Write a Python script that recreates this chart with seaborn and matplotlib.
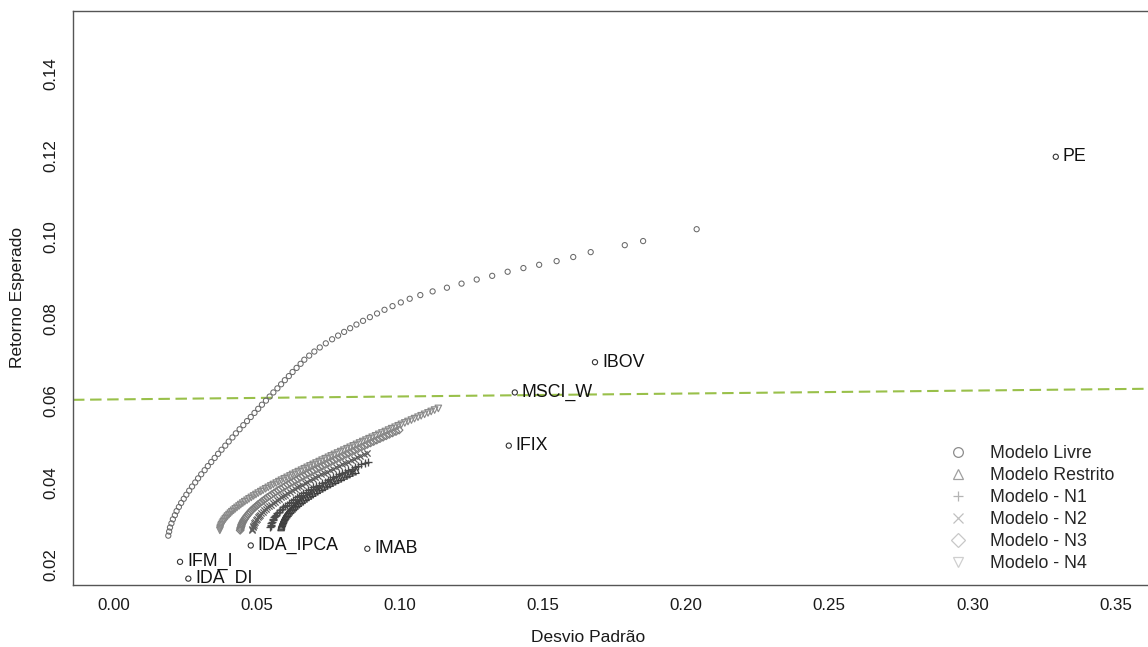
import matplotlib
matplotlib.use("Agg")
import matplotlib.pyplot as plt
from matplotlib.markers import MarkerStyle
from matplotlib.lines import Line2D
import seaborn as sns

# ---------------- data ----------------
asset_names = ["PE", "IBOV", "MSCI_W", "IFIX", "IMAB", "IDA_IPCA", "IFM_I", "IDA_DI"]
asset_sd = [0.3291, 0.1682, 0.1402, 0.1381, 0.0887, 0.0480, 0.0233, 0.0262]
asset_ret = [0.1196, 0.0694, 0.0620, 0.0490, 0.0238, 0.0246, 0.0206, 0.0165]

livre_ret = [0.027, 0.028, 0.029, 0.030, 0.031, 0.032, 0.033, 0.034, 0.035, 0.036,
             0.037, 0.038, 0.039, 0.040, 0.041, 0.042, 0.043, 0.044, 0.045, 0.046,
             0.047, 0.048, 0.049, 0.050, 0.051, 0.052, 0.053, 0.054, 0.055, 0.056,
             0.057, 0.058, 0.059, 0.060, 0.061, 0.062, 0.063, 0.064, 0.065, 0.066,
             0.067, 0.068, 0.069, 0.070, 0.071, 0.072, 0.073, 0.074, 0.075,
             0.0759, 0.0768, 0.0777, 0.0786, 0.0795, 0.0804, 0.0813, 0.0822, 0.0831,
             0.0840, 0.0849, 0.0858, 0.0867, 0.0876,
             0.0886, 0.0896, 0.0905, 0.0915, 0.0924, 0.0932, 0.0941, 0.0951, 0.0963,
             0.0980, 0.0990, 0.1019]
livre_sd = [0.0192, 0.0195, 0.0198, 0.0203, 0.0208, 0.0215, 0.0221, 0.0229, 0.0237, 0.0246,
            0.0255, 0.0265, 0.0275, 0.0286, 0.0296, 0.0307, 0.0319, 0.0330, 0.0342, 0.0354,
            0.0366, 0.0378, 0.0391, 0.0403, 0.0416, 0.0428, 0.0441, 0.0454, 0.0467, 0.0480,
            0.0493, 0.0506, 0.0519, 0.0533, 0.0546, 0.0559, 0.0573, 0.0586, 0.0599, 0.0613,
            0.0626, 0.0640, 0.0654, 0.0667, 0.0684, 0.0702, 0.0721, 0.0742, 0.0764,
            0.0785, 0.0806, 0.0827, 0.0849, 0.0872, 0.0896, 0.0921, 0.0947, 0.0975,
            0.1004, 0.1035, 0.1072, 0.1115, 0.1165,
            0.1216, 0.1269, 0.1323, 0.1377, 0.1432, 0.1487, 0.1548, 0.1606, 0.1667,
            0.1786, 0.1850, 0.2037]

# target-return grid shared by the constrained frontiers
frontier_ret_grid = [
    0.02830, 0.02865, 0.02900, 0.02935, 0.02970, 0.03005, 0.03040, 0.03075, 0.03110, 0.03145,
    0.03180, 0.03215, 0.03250, 0.03285, 0.03320, 0.03355, 0.03390, 0.03425, 0.03460, 0.03495,
    0.03530, 0.03565, 0.03600, 0.03635, 0.03670, 0.03705, 0.03740, 0.03775, 0.03810, 0.03845,
    0.03880, 0.03915, 0.03950, 0.03985, 0.04020, 0.04055, 0.04090, 0.04125, 0.04160, 0.04195,
    0.04230, 0.04265, 0.04300, 0.04335, 0.04370, 0.04405, 0.04440, 0.04475, 0.04510, 0.04545,
    0.04580, 0.04615, 0.04650, 0.04685, 0.04720, 0.04755, 0.04790, 0.04825, 0.04860, 0.04895,
    0.04930, 0.04965, 0.05000, 0.05035, 0.05070, 0.05105, 0.05140, 0.05175, 0.05210, 0.05245,
    0.05280, 0.05315, 0.05350, 0.05385, 0.05420, 0.05455, 0.05490, 0.05525, 0.05560, 0.05595,
    0.05630, 0.05665, 0.05700, 0.05735, 0.05770]

restrito_ret = frontier_ret_grid[2:43]
restrito_sd = [0.0586, 0.0587, 0.0588, 0.0590, 0.0592, 0.0594, 0.0596, 0.0599, 0.0602, 0.0606,
               0.0610, 0.0614, 0.0619, 0.0624, 0.0629, 0.0634, 0.0640, 0.0646, 0.0653, 0.0659,
               0.0666, 0.0673, 0.0681, 0.0688, 0.0696, 0.0704, 0.0712, 0.0721, 0.0730, 0.0738,
               0.0748, 0.0757, 0.0766, 0.0776, 0.0786, 0.0796, 0.0806, 0.0816, 0.0826, 0.0837,
               0.0847]

n1_ret = frontier_ret_grid[2:49]
n1_sd = [0.0548, 0.0549, 0.0550, 0.0552, 0.0554, 0.0556, 0.0559, 0.0562, 0.0565, 0.0569,
         0.0573, 0.0578, 0.0583, 0.0588, 0.0594, 0.0599, 0.0605, 0.0612, 0.0619, 0.0626,
         0.0633, 0.0640, 0.0648, 0.0656, 0.0664, 0.0673, 0.0681, 0.0690, 0.0699, 0.0709,
         0.0718, 0.0728, 0.0738, 0.0748, 0.0758, 0.0768, 0.0778, 0.0789, 0.0800, 0.0810,
         0.0821, 0.0832, 0.0844, 0.0855, 0.0866, 0.0878, 0.0889]

n2_ret = frontier_ret_grid[:55]
n2_sd = [0.0485, 0.0486, 0.0487, 0.0489, 0.0490, 0.0493, 0.0495, 0.0498, 0.0501, 0.0505,
         0.0509, 0.0513, 0.0517, 0.0522, 0.0527, 0.0532, 0.0538, 0.0544, 0.0550, 0.0557,
         0.0563, 0.0570, 0.0577, 0.0585, 0.0592, 0.0600, 0.0608, 0.0616, 0.0624, 0.0633,
         0.0642, 0.0650, 0.0659, 0.0669, 0.0678, 0.0687, 0.0697, 0.0706, 0.0716, 0.0726,
         0.0736, 0.0746, 0.0756, 0.0767, 0.0777, 0.0788, 0.0798, 0.0809, 0.0820, 0.0830,
         0.0841, 0.0852, 0.0863, 0.0874, 0.0885]

n3_ret = frontier_ret_grid[:71]
n3_sd = [0.0443, 0.0444, 0.0445, 0.0447, 0.0448, 0.0450, 0.0453, 0.0455, 0.0459, 0.0462,
         0.0466, 0.0470, 0.0474, 0.0478, 0.0483, 0.0488, 0.0494, 0.0500, 0.0505, 0.0512,
         0.0518, 0.0525, 0.0531, 0.0538, 0.0546, 0.0553, 0.0561, 0.0568, 0.0576, 0.0584,
         0.0593, 0.0601, 0.0609, 0.0618, 0.0627, 0.0636, 0.0645, 0.0654, 0.0663, 0.0673,
         0.0682, 0.0692, 0.0701, 0.0711, 0.0721, 0.0731, 0.0741, 0.0751, 0.0761, 0.0771,
         0.0781, 0.0792, 0.0802, 0.0813, 0.0823, 0.0834, 0.0844, 0.0855, 0.0866, 0.0877,
         0.0887, 0.0898, 0.0909, 0.0920, 0.0931, 0.0942, 0.0953, 0.0964, 0.0975, 0.0987,
         0.0998]

n4_ret = frontier_ret_grid + [0.05810]
n4_sd = [0.0372, 0.0373, 0.0374, 0.0376, 0.0378, 0.0381, 0.0384, 0.0387, 0.0391, 0.0395,
         0.0399, 0.0404, 0.0409, 0.0414, 0.0420, 0.0426, 0.0432, 0.0439, 0.0445, 0.0452,
         0.0459, 0.0467, 0.0474, 0.0482, 0.0490, 0.0498, 0.0506, 0.0515, 0.0523, 0.0532,
         0.0541, 0.0550, 0.0559, 0.0569, 0.0578, 0.0587, 0.0597, 0.0607, 0.0617, 0.0626,
         0.0636, 0.0646, 0.0657, 0.0667, 0.0677, 0.0687, 0.0698, 0.0708, 0.0719, 0.0729,
         0.0740, 0.0751, 0.0761, 0.0772, 0.0783, 0.0794, 0.0805, 0.0816, 0.0827, 0.0838,
         0.0849, 0.0860, 0.0871, 0.0882, 0.0893, 0.0904, 0.0916, 0.0927, 0.0938, 0.0950,
         0.0961, 0.0972, 0.0984, 0.0995, 0.1006, 0.1018, 0.1029, 0.1041, 0.1052, 0.1064,
         0.1075, 0.1087, 0.1099, 0.1110, 0.1122, 0.1135]

legend_labels = ["Modelo Livre", "Modelo Restrito", "Modelo - N1", "Modelo - N2",
                 "Modelo - N3", "Modelo - N4"]

# reference (dashed) line: intercept and slope
ref_intercept = 0.0603
ref_slope = 0.0072

x_ticks = [0.00, 0.05, 0.10, 0.15, 0.20, 0.25, 0.30, 0.35]
y_ticks = [0.02, 0.04, 0.06, 0.08, 0.10, 0.12, 0.14]

# ---------------- style ----------------
sns.set_style("white")
plt.rcParams["font.family"] = ["Liberation Sans", "DejaVu Sans"]

W, H = 1148, 647
fig = plt.figure(figsize=(W / 100, H / 100), dpi=100)
ax = fig.add_axes([73 / W, (H - 585) / H, (1150 - 73) / W, (585 - 11) / H])

# (sd, ret, marker, plot colour, size, linewidth, legend colour)
series = [
    (livre_sd, livre_ret, "o", "#6a6a6a", 14, 0.75, "#8c8c8c"),
    (restrito_sd, restrito_ret, "^", "#3e3e3e", 22, 0.9, "#a0a0a0"),
    (n1_sd, n1_ret, "+", "#4a4a4a", 28, 0.95, "#b4b4b4"),
    (n2_sd, n2_ret, "x", "#5e5e5e", 20, 0.9, "#c0c0c0"),
    (n3_sd, n3_ret, "D", "#7e7e7e", 15, 0.85, "#c8c8c8"),
    (n4_sd, n4_ret, "v", "#8a8a8a", 22, 0.85, "#cfcfcf"),
]

for sd, ret, mk, col, size, lw, _ in series:
    m = MarkerStyle(mk, fillstyle="none") if mk in ("o", "^", "D", "v") else mk
    sns.scatterplot(x=sd, y=ret, marker=m, color=col, s=size, linewidth=lw,
                    ax=ax, legend=False, zorder=3)

# assets
sns.scatterplot(x=asset_sd, y=asset_ret, marker=MarkerStyle("o", fillstyle="none"),
                color="#333333", s=14, linewidth=0.8, ax=ax, legend=False, zorder=4)
for name, xs, ys in zip(asset_names, asset_sd, asset_ret):
    ax.annotate(name, (xs, ys), xytext=(5, 0), textcoords="offset points",
                ha="left", va="center", fontsize=12.8, color="#111111",
                clip_on=True, zorder=5)

ax.axline((0, ref_intercept), slope=ref_slope, color="#99C04A", lw=1.5,
          linestyle=(0, (5.5, 2.7)), zorder=2)

ax.set_xlim(-0.01407, 0.3620)
ax.set_ylim(0.01494, 0.15523)
ax.set_xticks(x_ticks)
ax.set_xticklabels([f"{v:.2f}" for v in x_ticks])
ax.set_yticks(y_ticks)
ax.set_yticklabels([f"{v:.2f}" for v in y_ticks])

for s in ["left", "bottom", "top", "right"]:
    ax.spines[s].set_color("#555555")
    ax.spines[s].set_linewidth(1.0)

ax.tick_params(axis="both", which="major", direction="out", length=4.3, width=0.8,
               color="#555555", labelsize=12.2, labelcolor="#1a1a1a")
ax.tick_params(axis="x", pad=5)
ax.tick_params(axis="y", pad=6)
for lab in ax.get_yticklabels():
    lab.set_rotation(90)
    lab.set_va("center")
    lab.set_ha("right")

ax.set_xlabel("Desvio Padrão", fontsize=12.5, color="#1a1a1a")
ax.set_ylabel("Retorno Esperado", fontsize=12.5, color="#1a1a1a")
ax.xaxis.label.set_va("center")
ax.xaxis.set_label_coords((588 - 73) / 1077, (585 - 637) / 574)
ax.yaxis.label.set_va("center")
ax.yaxis.set_label_coords((18 - 73) / 1077, (585 - 297) / 574)

handles = []
for (sd, ret, mk, col, size, lw, lcol), lab in zip(series, legend_labels):
    handles.append(Line2D([], [], marker=mk, linestyle="none", markerfacecolor="none",
                          markeredgecolor=lcol, color=lcol, markersize=7,
                          markeredgewidth=0.9, label=lab))
ax.legend(handles=handles, loc="upper left",
          bbox_to_anchor=(948.7 / W, 1 - 445 / H), bbox_transform=fig.transFigure,
          frameon=False, fontsize=12.8, borderpad=0, borderaxespad=0,
          handlelength=1.0, handletextpad=1.35, labelspacing=0.28)

fig.savefig("out.png", dpi=100)
